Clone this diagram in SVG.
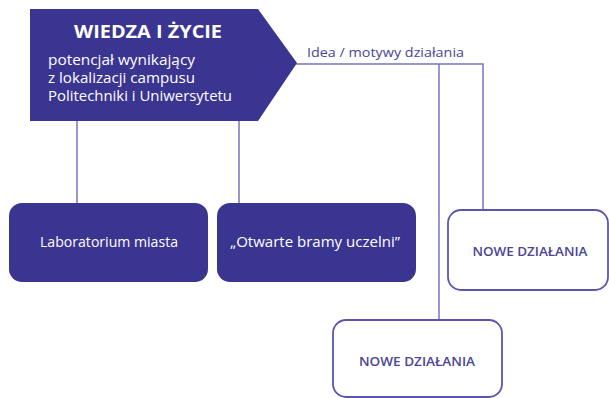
<svg xmlns="http://www.w3.org/2000/svg" width="609" height="398" viewBox="0 0 609 398">
<style>
.dark{fill:#3b3592}
.light{fill:#ffffff;stroke:#5a56b0;stroke-width:1.8}
.conn{fill:none;stroke:#7774c0;stroke-width:1.5}
text{font-family:"Open Sans","DejaVu Sans",sans-serif}
.wt{fill:#ffffff}
.bt{fill:#4a4598}
.nw{font-weight:600}
</style>
<rect width="609" height="398" fill="#ffffff"/>
<g id="connectors">
<path class="conn" d="M77 121V203"/>
<path class="conn" d="M239 121V203"/>
<path class="conn" d="M296 64H483V210"/>
<path class="conn" d="M439 64V320"/>
</g>
<g id="wiedza">
<polygon class="dark" points="30,9 258,9 297,63 258,121 30,121"/>
<text class="wt" x="148" y="38" font-size="17" font-weight="bold" text-anchor="middle" textLength="148" lengthAdjust="spacingAndGlyphs">WIEDZA I ŻYCIE</text>
<text class="wt" x="48" y="65" font-size="14" textLength="147" lengthAdjust="spacingAndGlyphs">potencjał wynikający</text>
<text class="wt" x="48" y="83" font-size="14" textLength="147" lengthAdjust="spacingAndGlyphs">z lokalizacji campusu</text>
<text class="wt" x="48" y="101" font-size="14" textLength="184" lengthAdjust="spacingAndGlyphs">Politechniki i Uniwersytetu</text>
</g>
<g id="idea-label">
<text class="bt" x="307" y="57" font-size="13.5" textLength="157" lengthAdjust="spacingAndGlyphs">Idea / motywy działania</text>
</g>
<g id="laboratorium">
<rect class="dark" x="9" y="203" width="199" height="79" rx="13"/>
<text class="wt" x="109" y="247" font-size="14" text-anchor="middle" textLength="138" lengthAdjust="spacingAndGlyphs">Laboratorium miasta</text>
</g>
<g id="otwarte">
<rect class="dark" x="217" y="203" width="199" height="79" rx="13"/>
<text class="wt" x="315" y="247" font-size="14" text-anchor="middle" textLength="170" lengthAdjust="spacingAndGlyphs">„Otwarte bramy uczelni”</text>
</g>
<g id="nowe1">
<rect class="light" x="448" y="210" width="160" height="80" rx="13"/>
<text class="bt nw" x="530" y="256" font-size="13" text-anchor="middle" textLength="115" lengthAdjust="spacingAndGlyphs">NOWE DZIAŁANIA</text>
</g>
<g id="nowe2">
<rect class="light" x="333" y="320" width="169" height="77" rx="13"/>
<text class="bt nw" x="417" y="366" font-size="13" text-anchor="middle" textLength="116" lengthAdjust="spacingAndGlyphs">NOWE DZIAŁANIA</text>
</g>
</svg>
